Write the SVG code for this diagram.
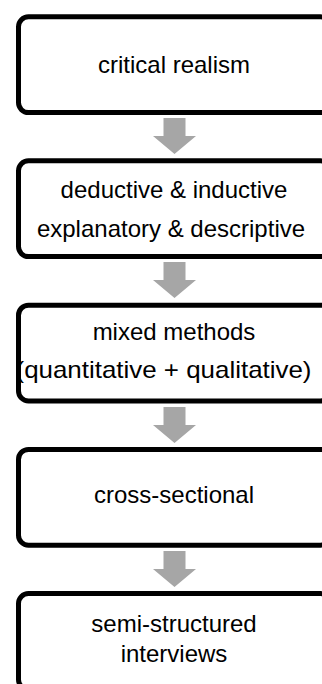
<svg xmlns="http://www.w3.org/2000/svg" width="322" height="684" viewBox="0 0 322 684">
  <style>
    .box { fill: #ffffff; stroke: #000000; stroke-width: 5; }
    .label { font-family: "Liberation Sans", Arial, sans-serif; font-size: 24px; fill: #000000; text-anchor: middle; }
    .arrow { fill: #a6a6a6; }
  </style>
  <defs>
    <!-- block arrow pointing down, 36px tall, origin at top centre -->
    <path id="down" d="M -11 0 H 11 V 18 H 21.5 L 0 36 L -21.5 18 H -11 Z"/>
  </defs>
  <rect width="322" height="684" fill="#ffffff"/>

  <g id="connectors" class="arrow">
    <use href="#down" x="174.5" y="118"/>
    <use href="#down" x="174.5" y="262"/>
    <use href="#down" x="174.5" y="407"/>
    <use href="#down" x="174.5" y="551"/>
  </g>

  <g id="critical-realism">
    <rect class="box" x="18.5" y="16.8" width="312" height="95.8" rx="10"/>
    <text class="label" x="174" y="72.7">critical realism</text>
  </g>

  <g id="deductive-inductive">
    <rect class="box" x="18.5" y="160.8" width="312" height="95.8" rx="10"/>
    <text class="label" x="174" y="198.3">deductive &amp; inductive</text>
    <text class="label" x="171" y="236.7">explanatory &amp; descriptive</text>
  </g>

  <g id="mixed-methods">
    <rect class="box" x="18.5" y="305.2" width="312" height="95.8" rx="10"/>
    <text class="label" x="174" y="340">mixed methods</text>
    <text class="label" x="163.5" y="377.7" textLength="296" lengthAdjust="spacingAndGlyphs">(quantitative + qualitative)</text>
  </g>

  <g id="cross-sectional">
    <rect class="box" x="18.5" y="449.4" width="312" height="95.8" rx="10"/>
    <text class="label" x="174" y="503.3">cross-sectional</text>
  </g>

  <g id="semi-structured-interviews">
    <rect class="box" x="18.5" y="593.6" width="312" height="95.8" rx="10"/>
    <text class="label" x="174" y="631.7">semi-structured</text>
    <text class="label" x="174" y="661.7">interviews</text>
  </g>
</svg>
